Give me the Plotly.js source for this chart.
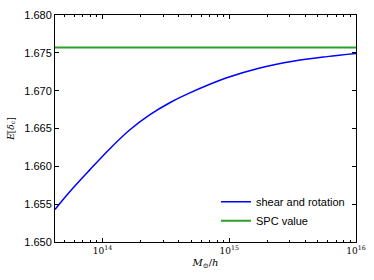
<!DOCTYPE html>
<html>
<head>
<meta charset="utf-8">
<script src="https://cdn.plot.ly/plotly-3.0.1.min.js"></script>
<style>html,body{margin:0;padding:0;background:#fff;}#chart{width:374px;height:280px;}</style>
</head>
<body>
<div id="chart"></div>
<script>
// Halo mass (M_sun/h)
const mass = [4.21e13, 5.48e13, 7.89e13, 1.136e14, 1.634e14, 2.35e14, 3.39e14, 4.88e14, 9.55e14, 1.74e15, 3.18e15, 5.9e15, 1e16];
// E[delta_c] for shear and rotation
const shearRot = [1.6543, 1.6566, 1.6595, 1.6623, 1.6648, 1.6668, 1.6684, 1.6697, 1.6717, 1.6730, 1.6739, 1.6745, 1.6749];
// SPC value (constant)
const spcValue = 1.6757;
const xRange = [4.21e13, 1e16];
const yTicks = [1.650, 1.655, 1.660, 1.665, 1.670, 1.675, 1.680];
const xTicks = [1e14, 1e15, 1e16];
const xTickText = ['10<sup>14</sup>', '10<sup>15</sup>', '10<sup>16</sup>'];
const xMinorTicks = [5e13, 6e13, 7e13, 8e13, 9e13,
  2e14, 3e14, 4e14, 5e14, 6e14, 7e14, 8e14, 9e14,
  2e15, 3e15, 4e15, 5e15, 6e15, 7e15, 8e15, 9e15];

const traces = [
  {x: mass, y: shearRot, mode: 'lines', name: 'shear and rotation',
   line: {color: '#0000ff', width: 1.5, shape: 'spline', smoothing: 1}},
  {x: xRange, y: [spcValue, spcValue], mode: 'lines', name: 'SPC value',
   line: {color: '#2ca02c', width: 2}}
];

const layout = {
  width: 374, height: 280,
  margin: {l: 55, r: 18, t: 15, b: 38},
  paper_bgcolor: '#fff', plot_bgcolor: '#fff',
  font: {family: 'Liberation Sans, Arial, sans-serif', size: 11, color: '#000'},
  showlegend: true,
  legend: {x: 0.98, y: 0.03, xanchor: 'right', yanchor: 'bottom',
           bgcolor: 'rgba(0,0,0,0)', borderwidth: 0, tracegroupgap: 0,
           font: {size: 11, family: 'Liberation Sans, Arial, sans-serif'}},
  xaxis: {
    type: 'log',
    range: [Math.log10(xRange[0]), Math.log10(xRange[1])],
    tickvals: xTicks, ticktext: xTickText,
    tickfont: {family: 'DejaVu Serif, serif', size: 9},
    ticks: 'inside', ticklen: 4, tickcolor: '#000',
    showline: true, linecolor: '#000', linewidth: 1, mirror: 'ticks',
    showgrid: false, zeroline: false,
    minor: {tickmode: 'array', tickvals: xMinorTicks, ticks: 'inside', ticklen: 2, tickcolor: '#000', showgrid: false},
    title: {text: '<i>M</i><sub>⊙</sub>/<i>h</i>', font: {family: 'DejaVu Serif, serif', size: 10}, standoff: 4}
  },
  yaxis: {
    range: [1.650, 1.680],
    tickvals: yTicks, tickformat: '.3f',
    ticks: 'inside', ticklen: 4, tickcolor: '#000',
    showline: true, linecolor: '#000', linewidth: 1, mirror: 'ticks',
    showgrid: false, zeroline: false,
    title: {text: '<i>E</i>[<i>δ</i><sub>c</sub>]', font: {family: 'DejaVu Serif, serif', size: 9}, standoff: 8}
  }
};

Plotly.newPlot('chart', traces, layout, {displayModeBar: false, staticPlot: true});
</script>
</body>
</html>
